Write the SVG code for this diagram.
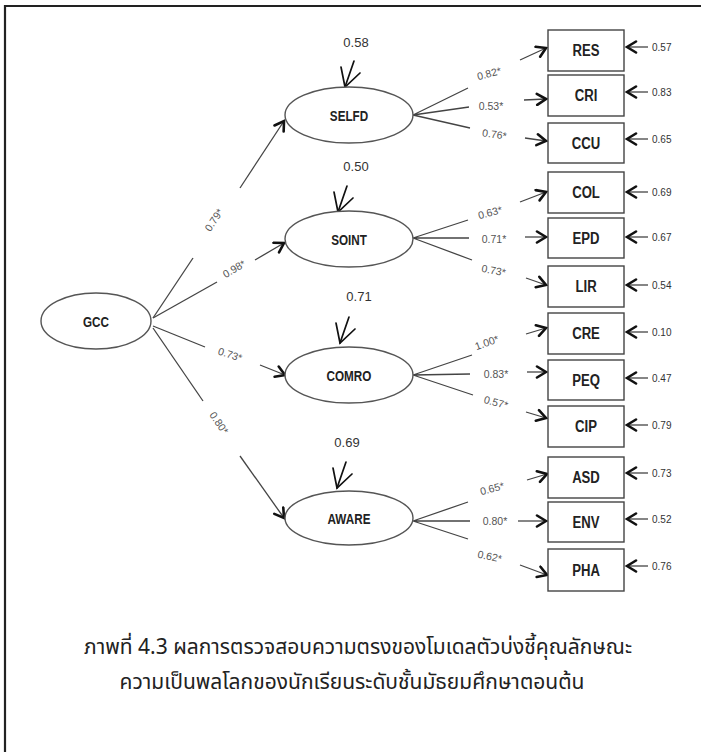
<svg xmlns="http://www.w3.org/2000/svg" width="701" height="752" viewBox="0 0 701 752">
<style>
.ell{fill:#fff;stroke:#555;stroke-width:1.4}
.box{fill:#fff;stroke:#444;stroke-width:1.4}
.lat{font-family:"Liberation Sans",Arial,sans-serif;font-weight:bold;font-size:15px;fill:#222;text-anchor:middle;transform-box:fill-box;transform-origin:center;transform:scaleX(0.78)}
.obs{font-family:"Liberation Sans",Arial,sans-serif;font-weight:bold;font-size:16px;fill:#222;text-anchor:middle;transform-box:fill-box;transform-origin:center;transform:scaleX(0.82)}
.ln{fill:none;stroke:#444;stroke-width:1.3}
.arr{fill:none;stroke:#444;stroke-width:1.3;marker-end:url(#ah)}
.hd{fill:none;stroke:#111;stroke-width:1.7;stroke-linecap:round}
.ld{font-family:"Liberation Sans",Arial,sans-serif;font-size:10.5px;fill:#555;text-anchor:middle}
.rv{font-family:"Liberation Sans",Arial,sans-serif;font-size:10px;fill:#333}
.r2{font-family:"Liberation Sans",Arial,sans-serif;font-size:13px;fill:#333;text-anchor:middle}
.cap{font-family:"Noto Sans Thai","Noto Sans Thai UI","Tlwg Typo","Loma","Garuda",sans-serif;font-size:21px;fill:#222;text-anchor:middle}
</style>
<defs>
<marker id="ah" viewBox="0 0 14 14" refX="12" refY="7" markerWidth="14" markerHeight="14" markerUnits="userSpaceOnUse" orient="auto">
<path d="M3,1.5 L12,7 L3,12.5" fill="none" stroke="#111" stroke-width="2.6" stroke-linejoin="miter" stroke-linecap="round"/>
</marker>
<g id="rarr" class="hd"><path d="M0,0 L9,-26"/><path d="M-4,-20 L0,0 L15,-14"/></g>
</defs>
<rect width="701" height="752" fill="#fff"/>
<path d="M5,752 L5,6 L701,6" fill="none" stroke="#222" stroke-width="2.2"/>

<g id="connectors">
<path class="ln" d="M153,318 L193,258"/><path class="arr" d="M240,188 L284,121"/>
<path class="ln" d="M153,318 L217,282"/><path class="arr" d="M255,260 L284,243"/>
<path class="ln" d="M153,326 L205,347"/><path class="arr" d="M260,365 L285,375"/>
<path class="ln" d="M153,328 L203,401"/><path class="arr" d="M240,456 L284,518"/>
<text class="ld" transform="translate(217,222) rotate(-56)">0.79*</text>
<text class="ld" transform="translate(236,272) rotate(-30)">0.98*</text>
<text class="ld" transform="translate(229,358) rotate(18)">0.73*</text>
<text class="ld" transform="translate(216,425) rotate(55)">0.80*</text>

<path class="ln" d="M413,115 L468,88 M413,115 L469,107 M413,115 L470,128"/>
<path class="ln" d="M413,238 L468,220 M413,238 L469,238 M413,238 L472,260"/>
<path class="ln" d="M413,375 L472,355 M413,375 L470,374 M413,375 L473,395"/>
<path class="ln" d="M413,521 L468,502 M413,521 L470,521 M413,521 L468,539"/>
<text class="ld" transform="translate(490,77) rotate(-15)">0.82*</text>
<text class="ld" transform="translate(491,110)">0.53*</text>
<text class="ld" transform="translate(494,138) rotate(8)">0.76*</text>
<text class="ld" transform="translate(491,216) rotate(-15)">0.63*</text>
<text class="ld" transform="translate(494,243)">0.71*</text>
<text class="ld" transform="translate(493,274) rotate(10)">0.73*</text>
<text class="ld" transform="translate(488,346) rotate(-20)">1.00*</text>
<text class="ld" transform="translate(496,378)">0.83*</text>
<text class="ld" transform="translate(495,406) rotate(15)">0.57*</text>
<text class="ld" transform="translate(493,492) rotate(-15)">0.65*</text>
<text class="ld" transform="translate(495,525)">0.80*</text>
<text class="ld" transform="translate(489,560) rotate(12)">0.62*</text>

<path class="arr" d="M520,60 L546,48"/>
<path class="arr" d="M524,100 L546,99"/>
<path class="arr" d="M525,138 L546,141"/>
<path class="arr" d="M520,202 L546,192"/>
<path class="arr" d="M525,237 L546,237"/>
<path class="arr" d="M526,278 L546,285"/>
<path class="arr" d="M526,334 L546,328"/>
<path class="arr" d="M527,372 L546,372"/>
<path class="arr" d="M526,412 L546,418"/>
<path class="arr" d="M527,480 L547,474"/>
<path class="arr" d="M518,521 L546,521"/>
<path class="arr" d="M520,565 L547,575"/>

<path class="arr" d="M648,47 L627,47"/>
<path class="arr" d="M648,92 L627,92"/>
<path class="arr" d="M648,139 L627,139"/>
<path class="arr" d="M648,192 L627,192"/>
<path class="arr" d="M648,237 L627,237"/>
<path class="arr" d="M648,285 L627,285"/>
<path class="arr" d="M648,332 L627,332"/>
<path class="arr" d="M648,378 L627,378"/>
<path class="arr" d="M648,425 L627,425"/>
<path class="arr" d="M648,473 L627,473"/>
<path class="arr" d="M648,519 L627,519"/>
<path class="arr" d="M648,566 L627,566"/>

<use href="#rarr" x="345" y="87"/>
<use href="#rarr" x="338" y="212"/>
<use href="#rarr" x="340" y="343"/>
<use href="#rarr" x="337" y="488"/>
</g>

<g id="GCC"><ellipse class="ell" cx="96" cy="321" rx="55" ry="28"/><text class="lat" x="96" y="327">GCC</text></g>
<g id="SELFD"><ellipse class="ell" cx="349" cy="115" rx="64" ry="28"/><text class="lat" x="349" y="121">SELFD</text><text class="r2" x="356" y="47">0.58</text></g>
<g id="SOINT"><ellipse class="ell" cx="349" cy="239" rx="64" ry="28"/><text class="lat" x="349" y="245">SOINT</text><text class="r2" x="356" y="171">0.50</text></g>
<g id="COMRO"><ellipse class="ell" cx="349" cy="375" rx="64" ry="28"/><text class="lat" x="349" y="381">COMRO</text><text class="r2" x="359" y="301">0.71</text></g>
<g id="AWARE"><ellipse class="ell" cx="349" cy="518" rx="64" ry="27"/><text class="lat" x="349" y="524">AWARE</text><text class="r2" x="347" y="447">0.69</text></g>

<g id="RES"><rect class="box" x="548" y="30" width="76" height="41"/><text class="obs" x="586" y="56">RES</text><text class="rv" x="652" y="51">0.57</text></g>
<g id="CRI"><rect class="box" x="548" y="75" width="76" height="41"/><text class="obs" x="586" y="101">CRI</text><text class="rv" x="652" y="96">0.83</text></g>
<g id="CCU"><rect class="box" x="548" y="123" width="76" height="40"/><text class="obs" x="586" y="149">CCU</text><text class="rv" x="652" y="143">0.65</text></g>
<g id="COL"><rect class="box" x="548" y="172" width="76" height="41"/><text class="obs" x="586" y="198">COL</text><text class="rv" x="652" y="196">0.69</text></g>
<g id="EPD"><rect class="box" x="548" y="218" width="76" height="40"/><text class="obs" x="586" y="244">EPD</text><text class="rv" x="652" y="241">0.67</text></g>
<g id="LIR"><rect class="box" x="548" y="266" width="76" height="41"/><text class="obs" x="586" y="292">LIR</text><text class="rv" x="652" y="289">0.54</text></g>
<g id="CRE"><rect class="box" x="548" y="313" width="76" height="41"/><text class="obs" x="586" y="339">CRE</text><text class="rv" x="652" y="336">0.10</text></g>
<g id="PEQ"><rect class="box" x="548" y="360" width="76" height="40"/><text class="obs" x="586" y="386">PEQ</text><text class="rv" x="652" y="382">0.47</text></g>
<g id="CIP"><rect class="box" x="548" y="406" width="76" height="41"/><text class="obs" x="586" y="432">CIP</text><text class="rv" x="652" y="429">0.79</text></g>
<g id="ASD"><rect class="box" x="548" y="457" width="76" height="41"/><text class="obs" x="586" y="483">ASD</text><text class="rv" x="652" y="477">0.73</text></g>
<g id="ENV"><rect class="box" x="548" y="502" width="76" height="40"/><text class="obs" x="586" y="528">ENV</text><text class="rv" x="652" y="523">0.52</text></g>
<g id="PHA"><rect class="box" x="548" y="549" width="76" height="42"/><text class="obs" x="586" y="576">PHA</text><text class="rv" x="652" y="570">0.76</text></g>

<g id="caption">
<text class="cap" x="358" y="654">ภาพที่ 4.3 ผลการตรวจสอบความตรงของโมเดลตัวบ่งชี้คุณลักษณะ</text>
<text class="cap" x="352" y="689">ความเป็นพลโลกของนักเรียนระดับชั้นมัธยมศึกษาตอนต้น</text>
</g>
</svg>
